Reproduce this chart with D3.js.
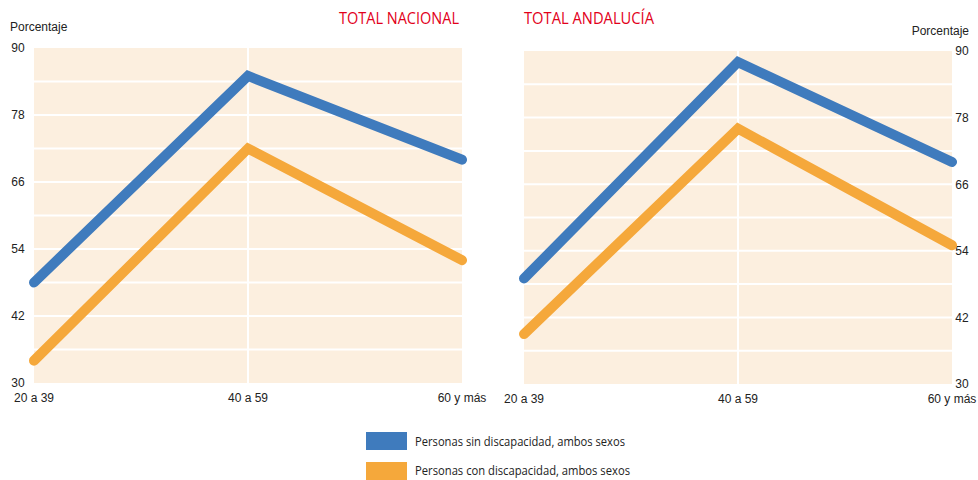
<!DOCTYPE html>
<html>
<head>
<meta charset="utf-8">
<script src="https://d3js.org/d3.v7.min.js"></script>
<style>
  body { margin: 0; background: #fff; }
  text { font-family: "Liberation Sans", Arial, sans-serif; }
  .lbl { font-family: "Open Sans", "Noto Sans", sans-serif; }
</style>
</head>
<body>
<div id="chart"></div>
<script>
// data
var categories = ["20 a 39", "40 a 59", "60 y más"];
var sinNacional = [48, 85, 70];
var conNacional = [34, 72, 52];
var sinAndalucia = [49, 88, 70];
var conAndalucia = [39, 76, 55];
var yTicks = [30, 42, 54, 66, 78, 90];
var gridValues = [36, 42, 48, 54, 60, 66, 72, 78, 84];
var seriesNames = ["Personas sin discapacidad, ambos sexos", "Personas con discapacidad, ambos sexos"];
var colors = ["#3f7bbd", "#f5a83b"];

var W = 978, H = 480;
var svg = d3.select("#chart").append("svg")
  .attr("width", W).attr("height", H);

function panel(opts) {
  var x = d3.scalePoint().domain(categories).range([opts.x0, opts.x1]);
  var y = d3.scaleLinear().domain([30, 90]).range([opts.y1, opts.y0]);
  var g = svg.append("g");

  // background
  g.append("rect")
    .attr("x", opts.x0).attr("y", y(90))
    .attr("width", opts.x1 - opts.x0).attr("height", y(30) - y(90))
    .attr("fill", "#fcefdf");

  // grid
  g.selectAll(".hg").data(gridValues).enter().append("line")
    .attr("x1", opts.x0).attr("x2", opts.x1)
    .attr("y1", function(d) { return y(d); }).attr("y2", function(d) { return y(d); })
    .attr("stroke", "#fff").attr("stroke-width", 2);
  g.append("line")
    .attr("x1", x(categories[1])).attr("x2", x(categories[1]))
    .attr("y1", y(90)).attr("y2", y(30))
    .attr("stroke", "#fff").attr("stroke-width", 2);

  // y axis labels
  var axis = opts.right ? d3.axisRight(y) : d3.axisLeft(y);
  axis.tickValues(yTicks).tickSize(0).tickPadding(0);
  var ax = g.append("g")
    .attr("transform", "translate(" + opts.axisX + ",0)")
    .call(axis);
  ax.select(".domain").remove();
  ax.selectAll("text")
    .attr("font-family", "Liberation Sans, Arial, sans-serif")
    .attr("font-size", 12).attr("fill", "#222")
    .attr("text-anchor", "middle");

  // x labels
  g.selectAll(".xl").data(categories).enter().append("text")
    .attr("x", function(d) { return x(d); })
    .attr("y", opts.y1 + 19)
    .attr("text-anchor", "middle")
    .attr("font-size", 12).attr("fill", "#222")
    .text(function(d) { return d; });

  // lines
  var line = d3.line()
    .x(function(d, i) { return x(categories[i]); })
    .y(function(d) { return y(d); });
  [opts.sin, opts.con].forEach(function(vals, i) {
    g.append("path").datum(vals)
      .attr("d", line)
      .attr("fill", "none")
      .attr("stroke", colors[i])
      .attr("stroke-width", 10)
      .attr("stroke-linecap", "round")
      .attr("stroke-linejoin", "miter");
  });

  // title
  g.append("text").attr("class", "lbl")
    .attr("x", opts.titleX).attr("y", 24)
    .attr("text-anchor", opts.right ? "start" : "end")
    .attr("font-size", 15.5).attr("fill", "#e2001a")
    .attr("textLength", opts.titleW).attr("lengthAdjust", "spacingAndGlyphs")
    .text(opts.title);

  // Porcentaje
  g.append("text")
    .attr("x", opts.pctX).attr("y", opts.pctY)
    .attr("text-anchor", opts.right ? "end" : "start")
    .attr("font-size", 12).attr("fill", "#222")
    .text("Porcentaje");
}

panel({ x0: 34, x1: 462, y0: 48, y1: 383, axisX: 18, right: false,
  sin: sinNacional, con: conNacional, title: "TOTAL NACIONAL", titleX: 459, titleW: 120, pctX: 10, pctY: 31 });
panel({ x0: 524, x1: 952, y0: 51, y1: 384, axisX: 962, right: true,
  sin: sinAndalucia, con: conAndalucia, title: "TOTAL ANDALUCÍA", titleX: 524, titleW: 130, pctX: 969, pctY: 35 });

// legend
var leg = svg.append("g");
seriesNames.forEach(function(name, i) {
  leg.append("rect")
    .attr("x", 366).attr("y", 432 + i * 30)
    .attr("width", 41).attr("height", 18)
    .attr("fill", colors[i]);
  leg.append("text").attr("class", "lbl")
    .attr("x", 415).attr("y", 446 + i * 29)
    .attr("font-size", 12.5).attr("fill", "#222")
    .attr("textLength", i === 0 ? 210 : 215).attr("lengthAdjust", "spacingAndGlyphs")
    .text(name);
});
</script>
</body>
</html>
